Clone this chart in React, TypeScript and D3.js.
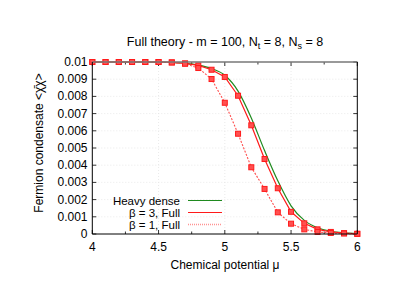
import * as d3 from "d3";
import React from "react";

// chemical potential grid
const mu = [4.0, 4.1, 4.2, 4.3, 4.4, 4.5, 4.6, 4.7, 4.8, 4.9, 5.0, 5.1, 5.2, 5.3, 5.4, 5.5, 5.6, 5.7, 5.8, 5.9, 6.0];

// condensate values (x 1e-3)
const heavyDense = [10.0, 10.0, 10.0, 10.0, 10.0, 9.99, 9.97, 9.92, 9.82, 9.62, 9.23, 8.31, 6.75, 4.85, 3.09, 1.64, 0.79, 0.36, 0.16, 0.07, 0.03];
const beta3Full = [10.0, 10.0, 10.0, 10.0, 10.0, 10.0, 9.98, 9.92, 9.8, 9.55, 9.13, 8.04, 6.32, 4.36, 2.66, 1.29, 0.62, 0.27, 0.12, 0.05, 0.01];
const beta1Full = [10.0, 10.0, 10.0, 10.0, 10.0, 10.0, 9.97, 9.9, 9.65, 9.01, 7.63, 5.83, 3.88, 2.62, 1.26, 0.6, 0.27, 0.12, 0.06, 0.03, 0.01];

const xTicks = [4, 4.5, 5, 5.5, 6];
const xMinor = [4.25, 4.75, 5.25, 5.75];
const yTicks = [0, 0.001, 0.002, 0.003, 0.004, 0.005, 0.006, 0.007, 0.008, 0.009, 0.01];
const yTickLabels = ["0", "0.001", "0.002", "0.003", "0.004", "0.005", "0.006", "0.007", "0.008", "0.009", "0.01"];

const legendNames = ["Heavy dense", "\u03b2 = 3, Full", "\u03b2 = 1, Full"];

export default function App() {
  const W = 415;
  const H = 294;
  const left = 92.3;
  const right = 357.3;
  const top = 62;
  const bottom = 234;

  const x = d3.scaleLinear().domain([4, 6]).range([left, right]);
  const y = d3.scaleLinear().domain([0, 0.01]).range([bottom, top]);

  const toPts = (vals: number[]) => mu.map((m, i) => [m, vals[i] / 1000] as [number, number]);

  const smooth = d3
    .line<[number, number]>()
    .x((d) => x(d[0]))
    .y((d) => y(d[1]))
    .curve(d3.curveMonotoneX);
  const straight = d3
    .line<[number, number]>()
    .x((d) => x(d[0]))
    .y((d) => y(d[1]));

  const font = "'Liberation Sans', Arial, sans-serif";
  const green = "#1f8a1f";
  const red = "#ff1a1a";
  const redLight = "#ff4d4d";

  const squares = (vals: number[], key: string) =>
    toPts(vals).map((d, i) => (
      <rect
        key={key + i}
        x={x(d[0]) - 2.5}
        y={y(d[1]) - 2.5}
        width={5}
        height={5}
        fill="#ff5050"
        stroke={red}
        strokeWidth={1}
      />
    ));

  const legendY = [200.5, 212.5, 224.5];

  return (
    <svg width={W} height={H} style={{ position: "absolute", left: 0, top: 0, background: "#fff" }}>
      {/* grid */}
      {xTicks.slice(1, -1).map((t) => (
        <line key={"gx" + t} x1={x(t)} x2={x(t)} y1={top} y2={bottom} stroke="#e4e4e4" strokeWidth={0.8} strokeDasharray="1,2" />
      ))}
      {yTicks.slice(1, -1).map((t) => (
        <line key={"gy" + t} x1={left} x2={right} y1={y(t)} y2={y(t)} stroke="#e4e4e4" strokeWidth={0.8} strokeDasharray="1,2" />
      ))}

      {/* ticks */}
      {xTicks.map((t) => (
        <g key={"xt" + t}>
          <line x1={x(t)} x2={x(t)} y1={bottom} y2={bottom - 4} stroke="#000" strokeWidth={0.8} />
          <line x1={x(t)} x2={x(t)} y1={top} y2={top + 4} stroke="#000" strokeWidth={0.8} />
          <text x={x(t)} y={251} textAnchor="middle" fontFamily={font} fontSize={12}>
            {String(t)}
          </text>
        </g>
      ))}
      {xMinor.map((t) => (
        <g key={"xm" + t}>
          <line x1={x(t)} x2={x(t)} y1={bottom} y2={bottom - 2.5} stroke="#000" strokeWidth={0.8} />
          <line x1={x(t)} x2={x(t)} y1={top} y2={top + 2.5} stroke="#000" strokeWidth={0.8} />
        </g>
      ))}
      {yTicks.map((t, i) => (
        <g key={"yt" + t}>
          <line x1={left} x2={left + 4} y1={y(t)} y2={y(t)} stroke="#000" strokeWidth={0.8} />
          <line x1={right} x2={right - 4} y1={y(t)} y2={y(t)} stroke="#000" strokeWidth={0.8} />
          <text x={87.5} y={y(t) + 4} textAnchor="end" fontFamily={font} fontSize={12}>
            {yTickLabels[i]}
          </text>
        </g>
      ))}

      {/* series */}
      <path d={smooth(toPts(heavyDense)) || ""} fill="none" stroke={green} strokeWidth={1.2} />
      <path d={straight(toPts(beta3Full)) || ""} fill="none" stroke={red} strokeWidth={1.2} />
      <path d={straight(toPts(beta1Full)) || ""} fill="none" stroke={redLight} strokeWidth={1.1} strokeDasharray="2,1.5" />
      {squares(beta3Full, "b3")}
      {squares(beta1Full, "b1")}

      {/* border */}
      <line x1={left} x2={right} y1={top} y2={top} stroke="#777" strokeWidth={1.5} />
      <line x1={left} x2={left} y1={top} y2={bottom} stroke="#000" strokeWidth={1} />
      <line x1={right} x2={right} y1={top} y2={bottom} stroke="#000" strokeWidth={1} />
      <line x1={left} x2={right} y1={bottom} y2={bottom} stroke="#000" strokeWidth={1} />

      {/* legend */}
      {legendNames.map((name, i) => (
        <g key={"lg" + i}>
          <text x={180} y={legendY[i] + 4} textAnchor="end" fontFamily={font} fontSize={11.5}>
            {name}
          </text>
          <line
            x1={188}
            x2={222}
            y1={legendY[i]}
            y2={legendY[i]}
            stroke={i === 0 ? green : i === 1 ? red : redLight}
            strokeWidth={i === 2 ? 1.6 : 1.2}
            strokeDasharray={i === 2 ? "1,1" : undefined}
            opacity={i === 2 ? 0.6 : 1}
          />
        </g>
      ))}

      {/* title and axis labels */}
      <text x={225} y={46} textAnchor="middle" fontFamily={font} fontSize={12.5}>
        Full theory - m = 100, N
        <tspan dy={3} fontSize={9}>t</tspan>
        <tspan dy={-3}> = 8, N</tspan>
        <tspan dy={3} fontSize={9}>s</tspan>
        <tspan dy={-3}> = 8</tspan>
      </text>
      <text x={225} y={269} textAnchor="middle" fontFamily={font} fontSize={12}>
        Chemical potential {"\u03bc"}
      </text>
      <text
        transform="translate(42.5,143) rotate(-90)"
        textAnchor="middle"
        fontFamily={font}
        fontSize={12}
      >
        Fermion condensate &lt;{"\u03c7\u0304\u03c7"}&gt;
      </text>
    </svg>
  );
}
